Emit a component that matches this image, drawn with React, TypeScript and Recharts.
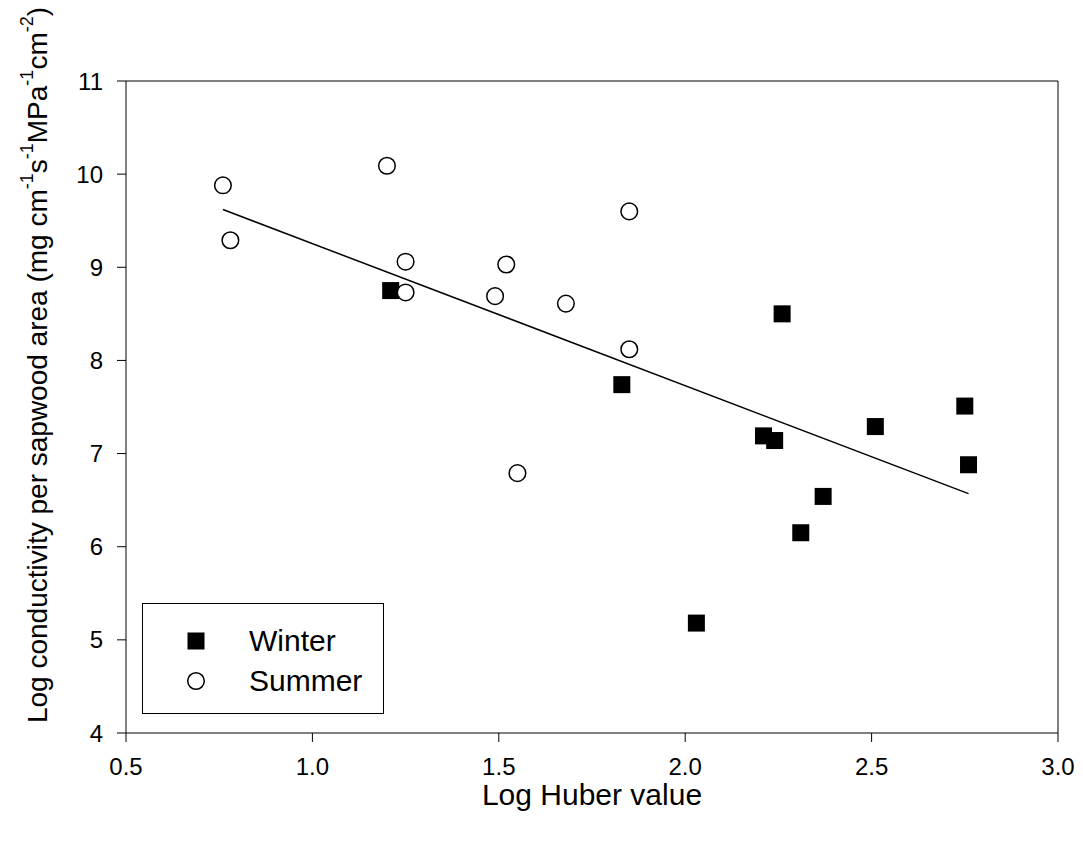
import React from "react";
import {
  ScatterChart,
  Scatter,
  XAxis,
  YAxis,
  ReferenceLine,
  Legend,
} from "recharts";

const winterX = [1.21, 1.83, 2.03, 2.21, 2.24, 2.26, 2.31, 2.37, 2.51, 2.75, 2.76];
const winterY = [8.75, 7.74, 5.18, 7.19, 7.14, 8.5, 6.15, 6.54, 7.29, 7.51, 6.88];
const summerX = [0.76, 0.78, 1.2, 1.25, 1.25, 1.49, 1.52, 1.55, 1.68, 1.85, 1.85];
const summerY = [9.88, 9.29, 10.09, 9.06, 8.73, 8.69, 9.03, 6.79, 8.61, 9.6, 8.12];
const fitX = [0.76, 2.76];
const fitY = [9.62, 6.57];
const xTicks = [0.5, 1.0, 1.5, 2.0, 2.5, 3.0];
const yTicks = [4, 5, 6, 7, 8, 9, 10, 11];
const seriesNames = ["Winter", "Summer"];

const winter = winterX.map((x, i) => ({ x, y: winterY[i] }));
const summer = summerX.map((x, i) => ({ x, y: summerY[i] }));
const fitSegment = fitX.map((x, i) => ({ x, y: fitY[i] }));

const FONT = "'Liberation Sans', Arial, sans-serif";

const SquareShape = (props: any) => {
  const { cx, cy } = props;
  return <rect x={cx - 8.5} y={cy - 8.5} width={17} height={17} fill="#000" />;
};
const CircleShape = (props: any) => {
  const { cx, cy } = props;
  return <circle cx={cx} cy={cy} r={8.3} fill="#fff" stroke="#000" strokeWidth={1.5} />;
};

const YTitle = () => (
  <text
    x={29}
    y={357}
    transform="rotate(-90 29 357)"
    textAnchor="middle"
    dominantBaseline="central"
    fontFamily={FONT}
    fontSize={28}
    fill="#000"
  >
    <tspan>Log conductivity per sapwood area (mg cm</tspan>
    <tspan fontSize={18} dy={-10}>-1</tspan>
    <tspan dy={10}>s</tspan>
    <tspan fontSize={18} dy={-10}>-1</tspan>
    <tspan dy={10}>MPa</tspan>
    <tspan fontSize={18} dy={-10}>-1</tspan>
    <tspan dy={10}>cm</tspan>
    <tspan fontSize={18} dy={-10}>-2</tspan>
    <tspan dy={10}>)</tspan>
  </text>
);

const LegendBox = () => (
  <div
    style={{
      width: 240,
      height: 109,
      border: "1px solid #000",
      background: "#fff",
      fontFamily: FONT,
      fontSize: 30,
      position: "relative",
    }}
  >
    {seriesNames.map((name, i) => (
      <div
        key={name}
        style={{
          position: "absolute",
          left: 0,
          top: 37 - 20 + i * 40,
          height: 40,
          display: "flex",
          alignItems: "center",
        }}
      >
        <svg width={106} height={40} style={{ display: "block" }}>
          {i === 0 ? (
            <rect x={44.5} y={11.5} width={17} height={17} fill="#000" />
          ) : (
            <circle cx={53} cy={20} r={8.3} fill="#fff" stroke="#000" strokeWidth={1.5} />
          )}
        </svg>
        <span style={{ lineHeight: "40px" }}>{name}</span>
      </div>
    ))}
  </div>
);

export default function App() {
  return (
    <div style={{ width: 1075, height: 830, position: "relative" }}>
      <ScatterChart
        width={1075}
        height={830}
        margin={{ top: 73, right: 25, bottom: 45, left: 58 }}
      >
        <XAxis
          type="number"
          dataKey="x"
          domain={[0.5, 3.0]}
          ticks={xTicks}
          tickFormatter={(v: number) => v.toFixed(1)}
          tickSize={9}
          tickMargin={16}
          height={60}
          stroke="#000"
          tick={{ fill: "#000", fontSize: 24, fontFamily: FONT }}
          allowDataOverflow
          label={{
            value: "Log Huber value",
            position: "insideBottom",
            offset: -12,
            fill: "#000",
            fontSize: 30,
            fontFamily: FONT,
          }}
        />
        <YAxis
          type="number"
          dataKey="y"
          domain={[4, 11]}
          ticks={yTicks}
          tickSize={9}
          tickMargin={14}
          width={60}
          stroke="#000"
          tick={{ fill: "#000", fontSize: 24, fontFamily: FONT }}
          allowDataOverflow
          label={{ content: () => <YTitle /> }}
        />
        <ReferenceLine y={11} stroke="#000" strokeWidth={1} />
        <ReferenceLine x={3.0} stroke="#000" strokeWidth={1} />
        <ReferenceLine segment={fitSegment} stroke="#000" strokeWidth={1.5} />
        <Scatter
          name={seriesNames[0]}
          data={winter}
          shape={SquareShape}
          isAnimationActive={false}
        />
        <Scatter
          name={seriesNames[1]}
          data={summer}
          shape={CircleShape}
          isAnimationActive={false}
        />
        <Legend
          layout="vertical"
          align="center"
          verticalAlign="middle"
          content={() => <LegendBox />}
          wrapperStyle={{ position: "absolute", left: 134, top: 595, width: 242, height: 111 }}
        />
      </ScatterChart>
    </div>
  );
}
